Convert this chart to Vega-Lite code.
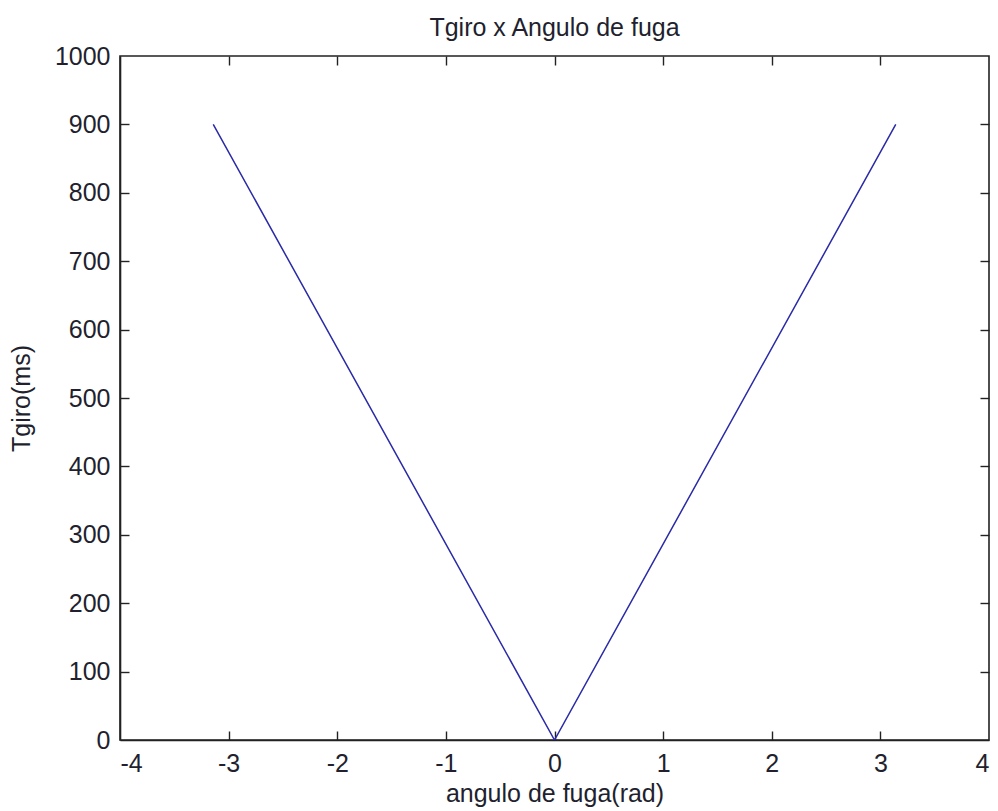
{
  "$schema": "https://vega.github.io/schema/vega-lite/v6.json",
  "autosize": {"type": "none"},
  "width": 869,
  "height": 684,
  "padding": {"left": 120, "top": 56, "right": 9, "bottom": 71},
  "background": "white",
  "title": {
    "text": "Tgiro x Angulo de fuga",
    "font": "Liberation Sans",
    "fontSize": 25,
    "fontWeight": "normal",
    "color": "#221f2e",
    "anchor": "middle",
    "baseline": "bottom",
    "offset": 16,
    "dy": 38
  },
  "config": {
    "view": {"stroke": "#222222", "strokeWidth": 1.6},
    "axis": {
      "grid": false,
      "domainColor": "#222222",
      "domainWidth": 1.6,
      "tickColor": "#222222",
      "tickWidth": 1.4,
      "labelFont": "Liberation Sans",
      "labelFontSize": 25,
      "labelColor": "#221f2e",
      "titleFont": "Liberation Sans",
      "titleFontSize": 25,
      "titleFontWeight": "normal",
      "titleColor": "#221f2e"
    }
  },
  "data": {
    "values": [
      {"angulo": -3.14159, "tgiro": 900},
      {"angulo": 0, "tgiro": 0},
      {"angulo": 3.14159, "tgiro": 900}
    ]
  },
  "layer": [
    {
      "mark": {"type": "line", "color": "#2a2aa8", "strokeWidth": 1.5, "clip": true},
      "encoding": {
        "x": {
          "field": "angulo", "type": "quantitative",
          "scale": {"domain": [-4, 4], "nice": false, "zero": false},
          "axis": {"title": "angulo de fuga(rad)", "values": [-4, -3, -2, -1, 0, 1, 2, 3, 4], "ticks": false, "labelPadding": 11, "titlePadding": 5,
                   "labelExpr": "datum.value < 0 ? '-' + abs(datum.value) : '' + datum.value"}
        },
        "y": {
          "field": "tgiro", "type": "quantitative",
          "scale": {"domain": [0, 1000], "nice": false},
          "axis": {"title": "Tgiro(ms)", "values": [0, 100, 200, 300, 400, 500, 600, 700, 800, 900, 1000], "ticks": false, "labelPadding": 10, "titlePadding": 20,
                   "labelExpr": "'' + datum.value"}
        }
      }
    },
    {
      "mark": {"type": "line", "opacity": 0},
      "encoding": {
        "x": {
          "field": "angulo", "type": "quantitative",
          "axis": {"orient": "bottom", "title": null, "labels": false, "domain": false, "offset": -9, "tickSize": 9, "values": [-3, -2, -1, 0, 1, 2, 3]}
        },
        "y": {
          "field": "tgiro", "type": "quantitative",
          "axis": {"orient": "left", "title": null, "labels": false, "domain": false, "offset": -9, "tickSize": 9, "values": [100, 200, 300, 400, 500, 600, 700, 800, 900]}
        }
      }
    },
    {
      "mark": {"type": "line", "opacity": 0},
      "encoding": {
        "x": {
          "field": "angulo", "type": "quantitative",
          "axis": {"orient": "top", "title": null, "labels": false, "domain": false, "offset": -9, "tickSize": 9, "values": [-3, -2, -1, 0, 1, 2, 3]}
        },
        "y": {
          "field": "tgiro", "type": "quantitative",
          "axis": {"orient": "right", "title": null, "labels": false, "domain": false, "offset": -9, "tickSize": 9, "values": [100, 200, 300, 400, 500, 600, 700, 800, 900]}
        }
      }
    }
  ],
  "resolve": {"axis": {"x": "independent", "y": "independent"}}
}
